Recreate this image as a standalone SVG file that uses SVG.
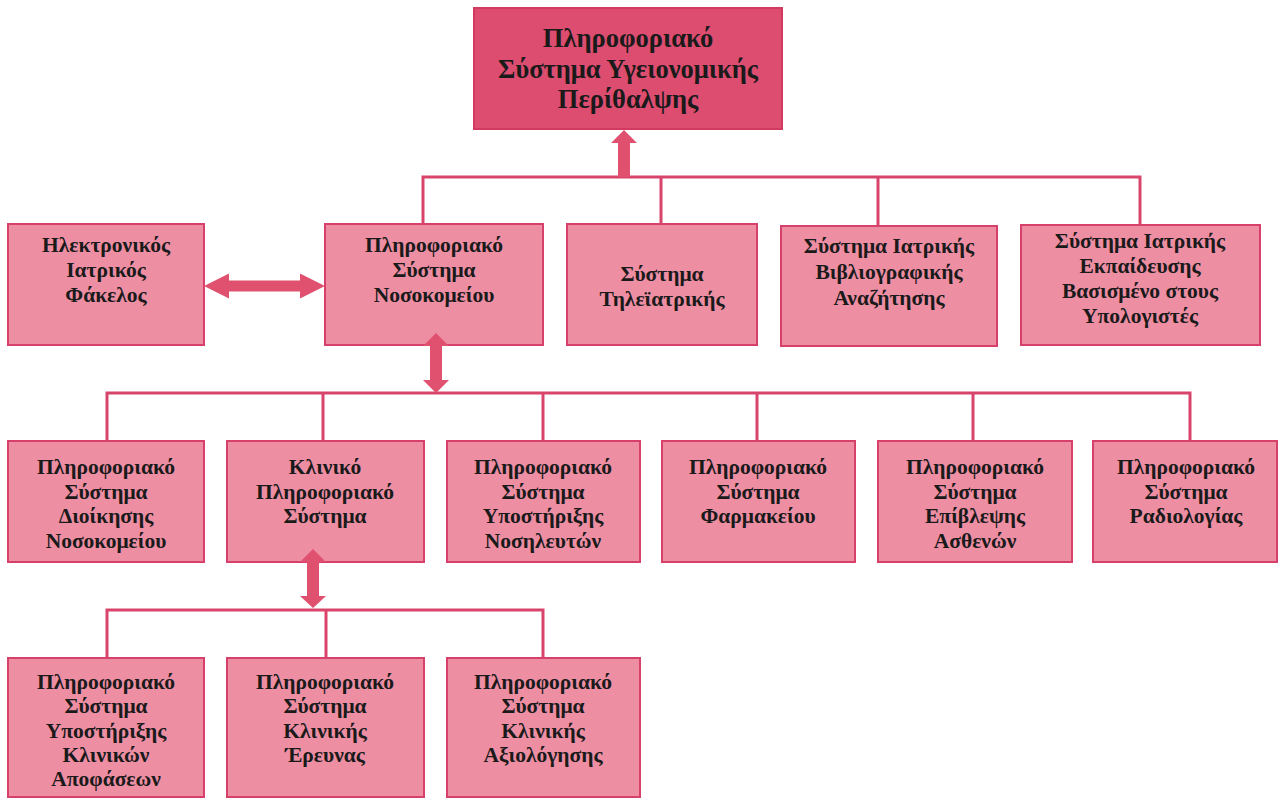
<svg xmlns="http://www.w3.org/2000/svg" width="1281" height="799" viewBox="0 0 1281 799">
  <style>
    .box { fill: #ee8ea3; stroke: #d6406a; stroke-width: 2; }
    .root { fill: #dc4d70; stroke: #d23a62; stroke-width: 2; }
    .label { font-family: "Liberation Serif", "DejaVu Serif", serif; font-weight: bold; font-size: 21.5px; fill: #1a1a1a; text-anchor: middle; }
    .title { font-size: 26.5px; }
    .wire { fill: none; stroke: #d9446a; stroke-width: 3; }
    .arrow { fill: #e0506f; stroke: none; }
  </style>
  <rect width="1281" height="799" fill="#ffffff"/>

  <!-- root -->
  <g id="n-root">
    <rect class="root" x="474" y="8" width="308" height="121"/>
    <text class="label title"><tspan x="628" y="47">Πληροφοριακό</tspan><tspan x="628" y="78">Σύστημα Υγειονομικής</tspan><tspan x="628" y="108">Περίθαλψης</tspan></text>
  </g>

  <!-- level 1 -->
  <g id="n-ehr">
    <rect class="box" x="8" y="224" width="196" height="121"/>
    <text class="label"><tspan x="106" y="252">Ηλεκτρονικός</tspan><tspan x="106" y="277">Ιατρικός</tspan><tspan x="106" y="302">Φάκελος</tspan></text>
  </g>
  <g id="n-his">
    <rect class="box" x="325" y="224" width="218" height="121"/>
    <text class="label"><tspan x="434" y="252">Πληροφοριακό</tspan><tspan x="434" y="277">Σύστημα</tspan><tspan x="434" y="302">Νοσοκομείου</tspan></text>
  </g>
  <g id="n-tele">
    <rect class="box" x="567" y="224" width="190" height="121"/>
    <text class="label"><tspan x="662" y="281">Σύστημα</tspan><tspan x="662" y="306">Τηλεϊατρικής</tspan></text>
  </g>
  <g id="n-biblio">
    <rect class="box" x="781" y="226" width="216" height="120"/>
    <text class="label"><tspan x="889" y="253">Σύστημα Ιατρικής</tspan><tspan x="889" y="279">Βιβλιογραφικής</tspan><tspan x="889" y="305">Αναζήτησης</tspan></text>
  </g>
  <g id="n-edu">
    <rect class="box" x="1021" y="225" width="239" height="120"/>
    <text class="label"><tspan x="1140" y="248">Σύστημα Ιατρικής</tspan><tspan x="1140" y="273">Εκπαίδευσης</tspan><tspan x="1140" y="298">Βασισμένο στους</tspan><tspan x="1140" y="323">Υπολογιστές</tspan></text>
  </g>

  <!-- level 2 -->
  <g id="n-admin">
    <rect class="box" x="8" y="441" width="196" height="121"/>
    <text class="label"><tspan x="106" y="474">Πληροφοριακό</tspan><tspan x="106" y="499">Σύστημα</tspan><tspan x="106" y="523">Διοίκησης</tspan><tspan x="106" y="548">Νοσοκομείου</tspan></text>
  </g>
  <g id="n-clinical">
    <rect class="box" x="227" y="441" width="197" height="121"/>
    <text class="label"><tspan x="325" y="474">Κλινικό</tspan><tspan x="325" y="499">Πληροφοριακό</tspan><tspan x="325" y="523">Σύστημα</tspan></text>
  </g>
  <g id="n-nursing">
    <rect class="box" x="447" y="441" width="193" height="121"/>
    <text class="label"><tspan x="543" y="474">Πληροφοριακό</tspan><tspan x="543" y="499">Σύστημα</tspan><tspan x="543" y="523">Υποστήριξης</tspan><tspan x="543" y="548">Νοσηλευτών</tspan></text>
  </g>
  <g id="n-pharmacy">
    <rect class="box" x="662" y="441" width="193" height="121"/>
    <text class="label"><tspan x="758" y="474">Πληροφοριακό</tspan><tspan x="758" y="499">Σύστημα</tspan><tspan x="758" y="523">Φαρμακείου</tspan></text>
  </g>
  <g id="n-monitor">
    <rect class="box" x="878" y="441" width="194" height="121"/>
    <text class="label"><tspan x="975" y="474">Πληροφοριακό</tspan><tspan x="975" y="499">Σύστημα</tspan><tspan x="975" y="523">Επίβλεψης</tspan><tspan x="975" y="548">Ασθενών</tspan></text>
  </g>
  <g id="n-radiology">
    <rect class="box" x="1093" y="441" width="184" height="121"/>
    <text class="label"><tspan x="1186" y="474">Πληροφοριακό</tspan><tspan x="1186" y="499">Σύστημα</tspan><tspan x="1186" y="523">Ραδιολογίας</tspan></text>
  </g>

  <!-- level 3 -->
  <g id="n-decision">
    <rect class="box" x="8" y="658" width="196" height="139"/>
    <text class="label"><tspan x="106" y="689">Πληροφοριακό</tspan><tspan x="106" y="713">Σύστημα</tspan><tspan x="106" y="738">Υποστήριξης</tspan><tspan x="106" y="762">Κλινικών</tspan><tspan x="106" y="786">Αποφάσεων</tspan></text>
  </g>
  <g id="n-research">
    <rect class="box" x="227" y="658" width="197" height="139"/>
    <text class="label"><tspan x="325" y="689">Πληροφοριακό</tspan><tspan x="325" y="713">Σύστημα</tspan><tspan x="325" y="738">Κλινικής</tspan><tspan x="325" y="762">Έρευνας</tspan></text>
  </g>
  <g id="n-evaluation">
    <rect class="box" x="447" y="658" width="193" height="139"/>
    <text class="label"><tspan x="543" y="689">Πληροφοριακό</tspan><tspan x="543" y="713">Σύστημα</tspan><tspan x="543" y="738">Κλινικής</tspan><tspan x="543" y="762">Αξιολόγησης</tspan></text>
  </g>

  <!-- connectors, drawn last so the arrowheads sit on top of the box edges -->
  <g id="connectors">
    <path class="wire" d="M423,224 V177 H1140 V225 M661,177 V224 M878,177 V226"/>
    <path class="wire" d="M107,441 V393 H1190 V441 M323,393 V441 M543,393 V441 M757,393 V441 M973,393 V441"/>
    <path class="wire" d="M107,658 V610 H543 V658 M326,610 V658"/>
    <polygon class="arrow" points="624,130 637,143 630,143 630,177 618,177 618,143 611,143"/>
    <polygon class="arrow" points="204,286 229,273.5 229,280.5 300,280.5 300,273.5 325,286 300,298.5 300,291.5 229,291.5 229,298.5"/>
    <polygon class="arrow" points="436,333 449,346 442,346 442,380 449,380 436,393 423,380 430,380 430,346 423,346"/>
    <polygon class="arrow" points="313,549 326,562 319,562 319,596 326,596 313,608 300,596 307,596 307,562 300,562"/>
  </g>
</svg>
